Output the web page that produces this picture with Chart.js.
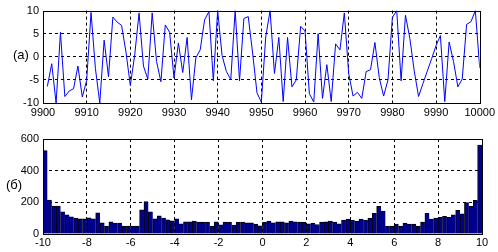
<!DOCTYPE html>
<html><head><meta charset="utf-8">
<script src="https://cdn.jsdelivr.net/npm/chart.js@4.4.1/dist/chart.umd.min.js"></script>
<style>
html,body{margin:0;padding:0;background:#fff;overflow:hidden;width:498px;height:252px}
#c1{position:absolute;left:0;top:0}
#c2{position:absolute;left:0;top:126px}
</style></head>
<body>
<canvas id="c1" width="498" height="125"></canvas>
<canvas id="c2" width="498" height="126"></canvas>
<script>
// ---------- data ----------
const timeSteps = [9901,9902,9903,9904,9905,9906,9907,9908,9909,9910,
9911,9912,9913,9914,9915,9916,9917,9918,9919,9920,
9921,9922,9923,9924,9925,9926,9927,9928,9929,9930,
9931,9932,9933,9934,9935,9936,9937,9938,9939,9940,
9941,9942,9943,9944,9945,9946,9947,9948,9949,9950,
9951,9952,9953,9954,9955,9956,9957,9958,9959,9960,
9961,9962,9963,9964,9965,9966,9967,9968,9969,9970,
9971,9972,9973,9974,9975,9976,9977,9978,9979,9980,
9981,9982,9983,9984,9985,9986,9987,9988,9989,9990,
9991,9992,9993,9994,9995,9996,9997,9998,9999,10000];
const signalValues = [-6.4,-1.5,-10,5.3,-8.6,-7.4,-6.9,-2.0,-8.7,-5.1,
9.6,-2.5,-10,3.6,-4.3,8.6,7.5,6.8,1.0,-6.2,
0.4,9.5,-2.0,-4.8,9.5,-1.0,-5.4,6.9,5.3,-4.6,
3.0,-3.4,4.2,-9.3,-0.2,1.5,8.0,9.8,-5.2,10,
0.3,-3.2,-4.9,10,-5.2,8.3,8.7,0.8,-7.8,-9.8,
4.3,10,-3.6,4.2,-9.7,4.2,-6.5,-5.0,6.6,5.6,
-8.0,-9.8,5.0,-9.0,-1.7,-9.7,2.8,1.5,9.5,-3.6,
-8.5,-7.7,-9.0,-3.2,-2.8,3.1,-4.5,-8.5,-5.0,8.5,
10,-5.2,9.0,4.0,-3.0,-8.6,-5.8,-3.1,-0.4,2.4,
4.6,-9.7,3.2,-1.0,-6.5,-4.8,7.0,7.6,10,-2.4];
const binCenters = [-9.9,-9.7,-9.5,-9.3,-9.1,-8.9,-8.7,-8.5,-8.3,-8.1,
-7.9,-7.7,-7.5,-7.3,-7.1,-6.9,-6.7,-6.5,-6.3,-6.1,
-5.9,-5.7,-5.5,-5.3,-5.1,-4.9,-4.7,-4.5,-4.3,-4.1,
-3.9,-3.7,-3.5,-3.3,-3.1,-2.9,-2.7,-2.5,-2.3,-2.1,
-1.9,-1.7,-1.5,-1.3,-1.1,-0.9,-0.7,-0.5,-0.3,-0.1,
0.1,0.3,0.5,0.7,0.9,1.1,1.3,1.5,1.7,1.9,
2.1,2.3,2.5,2.7,2.9,3.1,3.3,3.5,3.7,3.9,
4.1,4.3,4.5,4.7,4.9,5.1,5.3,5.5,5.7,5.9,
6.1,6.3,6.5,6.7,6.9,7.1,7.3,7.5,7.7,7.9,
8.1,8.3,8.5,8.7,8.9,9.1,9.3,9.5,9.7,9.9];
const binCounts = [527,215,177,177,140,121,108,100,96,96,
102,96,133,71,50,77,69,69,50,50,
50,50,152,204,140,96,115,100,90,83,
96,65,77,77,81,75,75,75,50,77,
58,75,75,56,75,75,71,71,62,52,
75,81,71,77,77,71,81,77,75,75,
65,69,60,75,77,81,75,65,88,94,
88,81,94,88,100,131,175,144,50,50,
62,50,69,62,62,50,75,131,94,100,
106,112,106,121,150,127,198,175,212,562];
const topTicksX = [9900, 10000, 10];
const topTicksY = [-10, 10, 5];
const botTicksX = [-10, 10, 2];
const botTicksY = [0, 600, 200];
const panelLabels = ['(a)', '(б)'];

// ---------- rendering ----------
Chart.defaults.font.family = "'Liberation Sans', Arial, sans-serif";
Chart.defaults.font.size = 11;
Chart.defaults.color = '#000';

const framePlugin = {
  id: 'frame',
  afterDraw(chart, args, opts) {
    const ctx = chart.ctx, a = chart.chartArea;
    ctx.save();
    ctx.strokeStyle = '#000';
    ctx.lineWidth = 1;
    const l = Math.round(a.left), t = Math.round(a.top), r = Math.round(a.right), b = Math.round(a.bottom);
    ctx.strokeRect(l + 0.5, t + 0.5, r - l, b - t);
    ctx.font = "13px 'Liberation Sans', Arial, sans-serif";
    ctx.fillStyle = '#000';
    ctx.textBaseline = 'middle';
    ctx.textAlign = 'left';
    ctx.fillText(opts.text, opts.x, opts.y);
    ctx.restore();
  }
};

function gridColor(min, max) {
  return (c) => (c.tick && (c.tick.value === min || c.tick.value === max)) ? 'rgba(0,0,0,0)' : '#000';
}

function axis(range, pos, size, pad) {
  return {
    type: 'linear', position: pos, min: range[0], max: range[1], offset: false,
    ticks: { stepSize: range[2], padding: pad, maxRotation: 0, autoSkip: false, callback: v => String(v) },
    grid: { color: gridColor(range[0], range[1]), lineWidth: 1, drawTicks: false, offset: false },
    border: { display: false, dash: [3, 3] },
    afterFit: (s) => { if (pos === 'left') s.width = size; else s.height = size; }
  };
}

new Chart(document.getElementById('c1'), {
  type: 'line',
  data: {
    datasets: [{
      data: timeSteps.map((t, i) => ({ x: t, y: signalValues[i] })),
      borderColor: '#0000ff', borderWidth: 1, pointRadius: 0, tension: 0, fill: false
    }]
  },
  options: {
    responsive: false, animation: false,
    layout: { padding: { left: 0, right: 16, top: 7, bottom: 0 } },
    plugins: { legend: { display: false }, tooltip: { enabled: false },
      frame: { text: panelLabels[0], x: 13, y: 55 } },
    scales: { x: axis(topTicksX, 'bottom', 22, 3), y: axis(topTicksY, 'left', 43, 4) }
  },
  plugins: [framePlugin]
});

new Chart(document.getElementById('c2'), {
  type: 'bar',
  data: {
    datasets: [{
      data: binCenters.map((c, i) => ({ x: c, y: binCounts[i] })),
      backgroundColor: '#00008c', borderColor: '#000',
      borderWidth: { top: 1, left: 1, right: 0, bottom: 0 }, borderSkipped: false,
      barPercentage: 1, categoryPercentage: 1
    }]
  },
  options: {
    responsive: false, animation: false,
    layout: { padding: { left: 0, right: 16, top: 13, bottom: 0 } },
    plugins: { legend: { display: false }, tooltip: { enabled: false },
      frame: { text: panelLabels[1], x: 6, y: 59 } },
    scales: { x: axis(botTicksX, 'bottom', 18, 2), y: axis(botTicksY, 'left', 43, 4) }
  },
  plugins: [framePlugin]
});
</script>
</body></html>
